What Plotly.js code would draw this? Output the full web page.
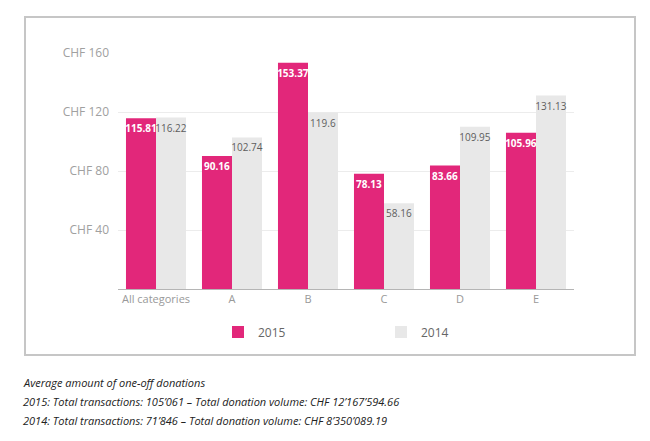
<!DOCTYPE html>
<html>
<head>
<meta charset="utf-8">
<script src="https://cdn.plot.ly/plotly-3.0.1.min.js"></script>
<style>
  html, body { margin: 0; padding: 0; background: #ffffff; }
  #chart { width: 650px; height: 441px; }
</style>
</head>
<body>
<div id="chart"></div>
<script>
const categories = ["All categories", "A", "B", "C", "D", "E"];
const values2015 = [115.81, 90.16, 153.37, 78.13, 83.66, 105.96];
const values2014 = [116.22, 102.74, 119.6, 58.16, 109.95, 131.13];
const seriesNames = ["2015", "2014"];
const yTickVals = [40, 80, 120, 160];
const captionLines = [
  "Average amount of one-off donations",
  "2015: Total transactions: 105’061 – Total donation volume: CHF 12’167’594.66",
  "2014: Total transactions: 71’846 – Total donation volume: CHF 8’350’089.19"
];

const FONT = "'Open Sans', 'DejaVu Sans', sans-serif";
const PINK = "#e2277a";
const GREY = "#e8e8e8";

// layout geometry (pixels)
const W = 650, H = 441;
const mL = 118, mR = 76, mT = 53, mB = 152;
const pw = W - mL - mR, ph = H - mT - mB;
const px2x = p => (p - mL) / pw;
const px2y = p => 1 - (p - mT) / ph;

const fmt = v => String(v);

const traces = [
  {
    type: "bar", name: seriesNames[0], x: categories, y: values2015,
    marker: { color: PINK },
    text: values2015.map(fmt), textposition: "inside", insidetextanchor: "end",
    textangle: 0, constraintext: "none",
    insidetextfont: { family: FONT, size: 10, color: "#ffffff", weight: 700 },
    hoverinfo: "skip"
  },
  {
    type: "bar", name: seriesNames[1], x: categories, y: values2014,
    marker: { color: GREY },
    text: values2014.map(fmt), textposition: "inside", insidetextanchor: "end",
    textangle: 0, constraintext: "none",
    insidetextfont: { family: FONT, size: 10, color: "#5e5e5e" },
    hoverinfo: "skip"
  }
];

const annotations = captionLines.map((t, i) => ({
  xref: "paper", yref: "paper",
  x: px2x(21), y: px2y(382 + i * 19),
  xanchor: "left", yanchor: "middle",
  text: "<i>" + t + "</i>", showarrow: false,
  font: { family: FONT, size: 11, color: "#222222" }
}));

const layout = {
  width: W, height: H,
  margin: { l: mL, r: mR, t: mT, b: mB, pad: 0 },
  paper_bgcolor: "#ffffff", plot_bgcolor: "#ffffff",
  font: { family: FONT, color: "#999999", size: 12 },
  barmode: "group", bargap: 0.21, bargroupgap: 0,
  showlegend: true,
  legend: {
    orientation: "h", x: px2x(218), xanchor: "left",
    y: px2y(332), yanchor: "middle",
    font: { family: FONT, size: 12, color: "#666666" },
    entrywidth: 118, traceorder: "normal"
  },
  xaxis: {
    type: "category", showgrid: false, zeroline: false,
    showline: true, linecolor: "#b5b5b5", linewidth: 1,
    ticks: "", tickfont: { family: FONT, size: 11, color: "#999999" },
    fixedrange: true
  },
  yaxis: {
    range: [0, 160], tickvals: yTickVals, ticktext: yTickVals.map(v => "CHF " + v),
    showgrid: true, gridcolor: "#ececec", gridwidth: 1,
    zeroline: false, showline: false, ticks: "",
    ticklabelstandoff: 8,
    tickfont: { family: FONT, size: 12, color: "#a0a0a0" },
    fixedrange: true
  },
  shapes: [
    {
      type: "rect", xref: "paper", yref: "paper",
      x0: px2x(25), x1: px2x(635), y0: px2y(355), y1: px2y(17),
      line: { color: "#c6c6c6", width: 2 }, fillcolor: "rgba(0,0,0,0)", layer: "below"
    }
  ],
  annotations: annotations
};

Plotly.newPlot("chart", traces, layout, { staticPlot: true, displayModeBar: false });
</script>
</body>
</html>
